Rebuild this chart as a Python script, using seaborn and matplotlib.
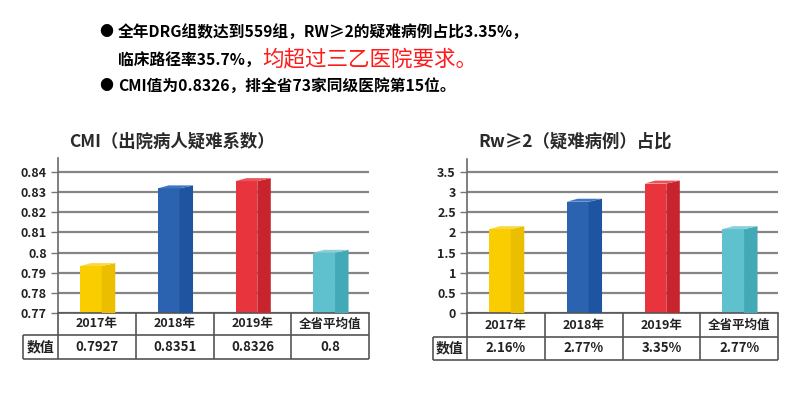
import matplotlib
matplotlib.use('Agg')
import matplotlib.pyplot as plt
from matplotlib.patches import Polygon
import seaborn as sns

# ---- data ----
categories = ['2017年', '2018年', '2019年', '全省平均值']
cmi_heights = [0.7933, 0.8319, 0.8355, 0.7999]      # bar heights as drawn
cmi_labels = ['0.7927', '0.8351', '0.8326', '0.8']    # table row "数值"
cmi_ticks = [0.77, 0.78, 0.79, 0.8, 0.81, 0.82, 0.83, 0.84]
cmi_ticklabels = ['0.77', '0.78', '0.79', '0.8', '0.81', '0.82', '0.83', '0.84']
rw_heights = [2.08, 2.76, 3.21, 2.08]
rw_labels = ['2.16%', '2.77%', '3.35%', '2.77%']
rw_ticks = [0, 0.5, 1, 1.5, 2, 2.5, 3, 3.5]
rw_ticklabels = ['0', '0.5', '1', '1.5', '2', '2.5', '3', '3.5']

front_colors = ['#F9CD00', '#2B63B1', '#E8343C', '#5FC1CE']
side_colors = ['#EBBE00', '#1E54A0', '#C8242E', '#44A9B6']
top_colors = ['#FBD93E', '#3F76C2', '#EC5359', '#86D2DB']

sns.set_style('white')
plt.rcParams['font.family'] = ['Noto Sans CJK SC', 'DejaVu Sans']

W, H = 800, 396
fig = plt.figure(figsize=(8, 3.96), dpi=100)


def px_rect(x0, y0, x1, y1):
    return [x0 / W, 1 - y1 / H, (x1 - x0) / W, (y1 - y0) / H]


def draw_chart(x0, x1, top, base, tbl_left, tbl_mid, tbl_bot,
               heights, labels, ticks, ticklabels, ymax, title):
    ax = fig.add_axes(px_rect(x0, top, x1, base))
    sns.barplot(x=categories, y=heights, hue=categories, palette=front_colors,
                width=0.28, legend=False, ax=ax, saturation=1)
    ymin = ticks[0]
    ax.set_ylim(ymin, ymax)
    ax.set_xlim(-0.5, 3.5)
    ax_px_w = x1 - x0
    ax_px_h = base - top
    dx = 13.5 / ax_px_w * 4          # side depth in category units
    dy = 3.0 / ax_px_h * (ymax - ymin)
    for i, p in enumerate(ax.patches):
        p.set_x(p.get_x() - dx / 2 + 0.01)
        p.set_edgecolor('none')
        xl = p.get_x()
        xr = xl + p.get_width()
        h = heights[i]
        ax.add_patch(Polygon([(xr, ymin), (xr + dx, ymin), (xr + dx, h + dy), (xr, h)],
                             closed=True, facecolor=side_colors[i], edgecolor='none', zorder=3))
        ax.add_patch(Polygon([(xl, h), (xr, h), (xr + dx, h + dy), (xl + dx * 0.8, h + dy)],
                             closed=True, facecolor=top_colors[i], edgecolor='none', zorder=3))
    ax.set_yticks(ticks)
    ax.set_yticklabels(ticklabels, fontsize=9, fontweight='bold', color='#222222')
    ax.yaxis.grid(True, color='#858585', lw=1.6)
    ax.set_axisbelow(True)
    ax.tick_params(axis='y', length=5, width=1, color='#777777', pad=3, left=True)
    ax.tick_params(axis='x', bottom=False, labelbottom=False)
    ax.set_xlabel('')
    for s in ['top', 'right']:
        ax.spines[s].set_visible(False)
    ax.spines['left'].set_color('#6a6a6a')
    ax.spines['bottom'].set_color('#555555')
    ax.spines['left'].set_linewidth(1.2)
    ax.spines['bottom'].set_linewidth(1.2)

    # value table under the chart
    unit = ax_px_w / 4
    lab_w = (x0 - tbl_left) / unit
    tax = fig.add_axes(px_rect(tbl_left, base, x1, tbl_bot))
    tax.set_xlim(-0.5 - lab_w, 3.5)
    r1 = (tbl_mid - base) / (tbl_bot - base)
    tax.set_ylim(1, 0)
    tax.axis('off')
    lc = '#555555'
    tax.hlines([r1, 1], -0.5 - lab_w, 3.5, color=lc, lw=1.2, clip_on=False)
    tax.vlines([-0.5, 0.5, 1.5, 2.5, 3.5], 0, 1, color=lc, lw=1.2, clip_on=False)
    tax.vlines([-0.5 - lab_w], r1, 1, color=lc, lw=1.2, clip_on=False)
    for i, (c, v) in enumerate(zip(categories, labels)):
        tax.text(i, r1 / 2, c, ha='center', va='center', fontsize=9, fontweight='bold', color='#222222')
        tax.text(i, (1 + r1) / 2, v, ha='center', va='center', fontsize=9.5, fontweight='bold', color='#222222')
    tax.text(-0.5 - lab_w / 2, (1 + r1) / 2, '数值', ha='center', va='center',
             fontsize=10, fontweight='bold', color='#222222')

    fig.text((x0 + 11) / W, 1 - 142 / H, title, ha='left', va='center',
             fontsize=12.5, fontweight='bold', color='#2a2a2a')


draw_chart(58, 369, 158, 313, 23, 335, 359,
           cmi_heights, cmi_labels, cmi_ticks, cmi_ticklabels, 0.847,
           'CMI（出院病人疑难系数）')
draw_chart(467, 778, 159, 313, 433, 337, 360,
           rw_heights, rw_labels, rw_ticks, rw_ticklabels, 3.82,
           'Rw≥2（疑难病例）占比')

# header text
fig.text(99 / W, 1 - 32 / H, '●', ha='left', va='center', fontsize=10, color='black')
fig.text(118 / W, 1 - 32 / H, '全年DRG组数达到559组，RW≥2的疑难病例占比3.35%，',
         ha='left', va='center', fontsize=11.3, fontweight='bold', color='black')
fig.text(118 / W, 1 - 60 / H, '临床路径率35.7%，', ha='left', va='center',
         fontsize=11.3, fontweight='bold', color='black')
fig.text(262 / W, 1 - 59 / H, '均超过三乙医院要求。', ha='left', va='center',
         fontsize=15.5, color='#FF1A1A')
fig.text(99 / W, 1 - 86 / H, '●', ha='left', va='center', fontsize=10, color='black')
fig.text(118 / W, 1 - 86 / H, 'CMI值为0.8326，排全省73家同级医院第15位。',
         ha='left', va='center', fontsize=11.3, fontweight='bold', color='black')

fig.savefig('out.png', dpi=100, facecolor='white')
